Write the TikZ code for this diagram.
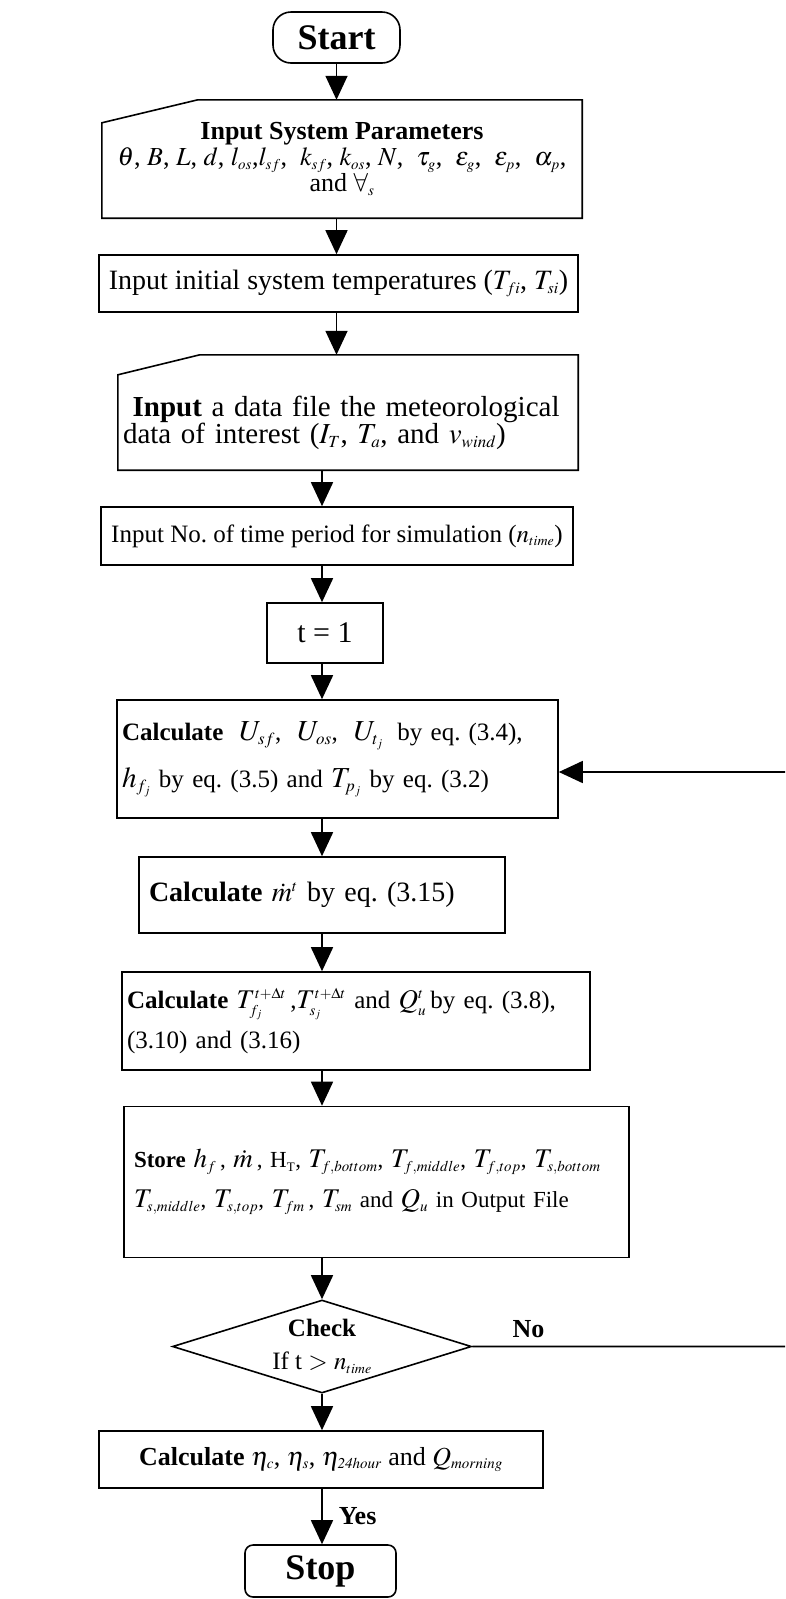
\documentclass[tikz,border=0pt]{standalone}
\usepackage{mathptmx}
\usepackage[no-math]{fontspec}
\setmainfont{Liberation Serif}
\usepackage{tikz}
\usetikzlibrary{arrows.meta,positioning,calc,shapes.geometric}
\newcommand{\fsz}[2]{\fontsize{#1}{#2}\selectfont}
\newcommand{\mth}[2][27]{{\fontsize{#1}{#1}\selectfont$#2$}}
\DeclareMathSizes{22}{22}{12}{9}
\DeclareMathSizes{23}{23}{13}{10}
\DeclareMathSizes{25}{25}{14}{11}
\DeclareMathSizes{26}{26}{15}{11}
\DeclareMathSizes{27}{27}{15}{11}
\DeclareMathSizes{28}{28}{16}{12}
\DeclareMathSizes{29}{29}{17}{12}
\DeclareMathSizes{30}{30}{17}{13}
\frenchspacing
\tikzset{
  >={Triangle[length=24pt,width=22pt]},
  every node/.style={inner sep=4pt,text=black},
  procbox/.style={draw,line width=1.6pt,align=center,font=\fsz{26}{30}},
  leftbox/.style={procbox,align=left,inner xsep=5pt},
  inbox/.style={align=center,inner sep=4pt,font=\fsz{26}{26}},
  inshape/.style={draw,line width=1.6pt},
  terminal/.style={draw,line width=1.6pt,font=\bfseries\fsz{36}{40}},
  decision/.style={diamond,draw,line width=1.6pt,aspect=3.2,inner sep=0pt,align=center,font=\fsz{25}{33}},
  flow/.style={->,line width=1.6pt},
  lbl/.style={font=\bfseries\fsz{26}{28},inner sep=2pt},
}

\begin{document}
\begin{tikzpicture}[x=1pt,y=-1pt]
\useasboundingbox (0,0) rectangle (785,1599);
\clip (0,0) rectangle (785,1599);

\node[terminal,rounded corners=18pt,minimum width=127pt,minimum height=51pt] (start) at (336.5,37.5) {Start};

\node[inbox,minimum width=480pt,minimum height=118pt] (params) at (342,159)
{\textbf{Input System Parameters}\\$\theta$, $B$, $L$, $d$, $l_{os}$,$l_{sf}$,\ \ $k_{sf}$, $k_{os}$, $N$,\ \ $\tau_g$,\ \ $\varepsilon_g$,\ \ $\varepsilon_p$,\ \ $\alpha_p$,\\and $\forall_s$};
\draw[inshape] ($(params.north west)+(0,23)$) -- ($(params.north west)+(96,0)$) -- (params.north east) -- (params.south east) -- (params.south west) -- cycle;

\node[procbox,minimum width=479pt,minimum height=57pt,font=\fsz{28}{30}] (inittemp) at (338.5,283.5) {Input initial system temperatures ($T_{fi}$, $T_{si}$)};

\node[inbox,align=left,text width=450pt,inner xsep=5pt,minimum height=95pt,font=\fsz{29}{27}] (metdata) at (348,422.5)
{\ \textbf{Input} a data file the meteorological\\data of interest ($I_T$, $T_a$, and $v_{wind}$)};
\draw[inshape] (metdata.north west) -- ($(metdata.north west)+(82,-20)$) -- ($(metdata.north east)+(0,-20)$) -- (metdata.south east) -- (metdata.south west) -- cycle;

\node[procbox,minimum width=472pt,minimum height=58pt,font=\fsz{25}{30}] (ntime) at (337,536) {Input No. of time period for simulation ($n_{time}$)};

\node[procbox,minimum width=116pt,minimum height=60pt,font=\fsz{30}{32}] (tinit) at (325,633) {t = 1};

\node[leftbox,text width=431pt,minimum height=118pt,font=\fsz{25}{47}] (calcU) at (337.5,759)
{\textbf{Calculate}\hspace{16pt}\mth[29]{U_{sf}},\hspace{16pt}\mth[29]{U_{os}},\hspace{16pt}\mth[29]{U_{t_j}}\hspace{14pt}by eq.\hspace{8pt}(3.4),\\\mth[29]{h_{f_j}} by eq. (3.5) and \mth[29]{T_{p_j}} by eq. (3.2)};

\node[leftbox,text width=346pt,inner xsep=10pt,minimum height=76pt,font=\fsz{28}{30}] (calcm) at (322,895)
{\textbf{Calculate} $\dot{m}^t$\ by eq. (3.15)};

\node[leftbox,text width=458pt,minimum height=98pt,font=\fsz{25}{40}] (calcT) at (356,1021)
{\textbf{Calculate} \mth[27]{T^{t+\Delta t}_{f_j}}\,,\mth[27]{T^{t+\Delta t}_{s_j}} and \mth[27]{Q^t_u}\,by eq. (3.8),\\(3.10) and (3.16)};

\node[leftbox,text width=485pt,inner xsep=10pt,minimum height=151pt,font=\fsz{23}{40}] (store) at (376.5,1182)
{\textbf{Store} \mth{h_f}\,, \mth{\dot{m}}\,, H\textsubscript{T}, \mth{T_{f,bottom}}, \mth{T_{f,middle}}, \mth{T_{f,top}}, \mth{T_{s,bottom}}\\\mth{T_{s,middle}}, \mth{T_{s,top}}, \mth{T_{fm}}\,, \mth{T_{sm}}\ and \mth{Q_u} in Output File};

\node[decision,minimum width=299pt,minimum height=93pt] (check) at (322,1346.5)
{\textbf{Check}\\If t $>$ $n_{time}$};

\node[procbox,minimum width=444pt,minimum height=57pt] (calceta) at (321,1459.5)
{\textbf{Calculate} $\eta_c$, $\eta_s$, $\eta_{\mathit{24hour}}$ and $Q_{morning}$};

\node[terminal,rounded corners=8pt,minimum width=151pt,minimum height=52pt] (stop) at (320.5,1571) {Stop};

\draw[flow] (start.south) -- (start.south |- params.north);
\draw[flow] (params.south -| start) -- (inittemp.north -| start);
\draw[flow] (inittemp.south -| start) -- ($(metdata.north -| start)+(0,-20)$);
\draw[flow] (metdata.south -| check) -- (ntime.north -| check);
\draw[flow] (ntime.south -| check) -- (tinit.north -| check);
\draw[flow] (tinit.south -| check) -- (calcU.north -| check);
\draw[flow] (calcU.south -| check) -- (calcm.north -| check);
\draw[flow] (calcm.south -| check) -- (calcT.north -| check);
\draw[flow] (calcT.south -| check) -- (store.north -| check);
\draw[flow] (store.south -| check) -- (check.north);
\draw[flow] (check.south) -- (calceta.north -| check);
\draw[flow] (calceta.south -| check) -- node[lbl,right=14pt] {Yes} (stop.north -| check);

\coordinate (loopR) at ($(check.east)+(330,0)$);
\coordinate (loopT) at (800,772);
\draw[flow] (check.east) -- node[lbl,pos=0.17,above=6pt] {No} (loopR) -- (loopT) -- (loopT -| calcU.east);

\end{tikzpicture}
\end{document}
